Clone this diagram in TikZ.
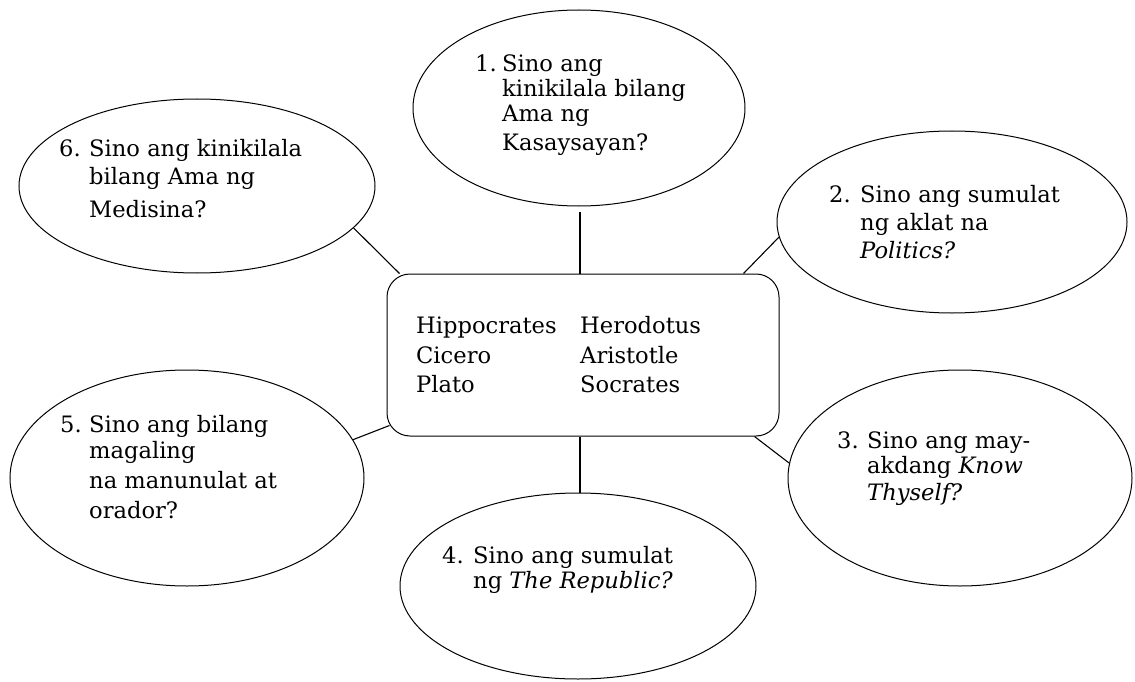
\documentclass[tikz,border=0pt]{standalone}
\usepackage{fontspec}
\setmainfont{DejaVu Serif}
\usetikzlibrary{shapes.geometric}
\newcommand\qnum[2]{\makebox[#1][l]{#2}}
\begin{document}
\begin{tikzpicture}[x=1pt,y=-1pt,
  bubble/.style={draw, ellipse, line width=1pt, inner sep=0pt},
  qtext/.style={anchor=base west, inner sep=0pt, font=\fontsize{22.6}{25}\selectfont},
  link/.style={line width=1.1pt}]
\useasboundingbox (0,0) rectangle (1135,682);
% central box
\node[draw, line width=1pt, rounded corners=23pt, minimum width=392pt, minimum height=162pt, inner sep=0pt] (box) at (583,355) {};
\node[qtext] (names) at (416,333) {\begin{tabular}[t]{@{}l@{}l@{}}\qnum{164pt}{Hippocrates}&Herodotus\\[5pt]
Cicero&Aristotle\\[4pt]
Plato&Socrates\end{tabular}};
% bubbles
\node[bubble, minimum width=332pt, minimum height=196pt] (q1) at (579,108) {};
\node[bubble, minimum width=350pt, minimum height=182pt] (q2) at (952,222) {};
\node[bubble, minimum width=344pt, minimum height=216pt] (q3) at (960,478) {};
\node[bubble, minimum width=356pt, minimum height=186pt] (q4) at (578,586) {};
\node[bubble, minimum width=354pt, minimum height=216pt] (q5) at (187,478) {};
\node[bubble, minimum width=356pt, minimum height=174pt] (q6) at (197,186) {};
% texts
\node[qtext] (t1) at (475,72) {\begin{tabular}[t]{@{}l@{}l@{}}\qnum{27pt}{1.}&Sino ang\\
&kinikilala bilang\\
&Ama ng\\[4pt]
&Kasaysayan?\end{tabular}};
\node[qtext] (t2) at (829,202) {\begin{tabular}[t]{@{}l@{}l@{}}\qnum{31pt}{2.}&Sino ang sumulat\\[3pt]
&ng aklat na\\[3pt]
&\textit{Politics?}\end{tabular}};
\node[qtext] (t3) at (837,448) {\begin{tabular}[t]{@{}l@{}l@{}}\qnum{30pt}{3.}&Sino ang may-\\
&akdang \textit{Know}\\[2pt]
&\textit{Thyself?}\end{tabular}};
\node[qtext] (t4) at (442,563) {\begin{tabular}[t]{@{}l@{}l@{}}\qnum{31pt}{4.}&Sino ang sumulat\\
&ng \textit{The Republic?}\end{tabular}};
\node[qtext] (t5) at (60,432) {\begin{tabular}[t]{@{}l@{}l@{}}\qnum{29pt}{5.}&Sino ang bilang\\[1pt]
&magaling\\[5pt]
&na manunulat at\\[5pt]
&orador?\end{tabular}};
\node[qtext] (t6) at (59,157) {\begin{tabular}[t]{@{}l@{}l@{}}\qnum{30pt}{6.}&Sino ang kinikilala\\[3pt]
&bilang Ama ng\\[8pt]
&Medisina?\end{tabular}};
% connectors
\draw[link] ([xshift=1pt,yshift=-5pt]q1.south) -- ([xshift=-3pt]box.north);
\draw[link] ([xshift=-3pt]box.south) -- ([xshift=2pt]q4.north);
\draw[link] (q6.-15) -- ([xshift=13pt]box.north west);
\draw[link] (q2.185) -- ([xshift=-36pt]box.north east);
\draw[link] (q3.175) -- ([xshift=-25pt]box.south east);
\draw[link] (q5.13) -- ([shift={(3pt,11pt)}]box.south west);
\end{tikzpicture}
\end{document}
